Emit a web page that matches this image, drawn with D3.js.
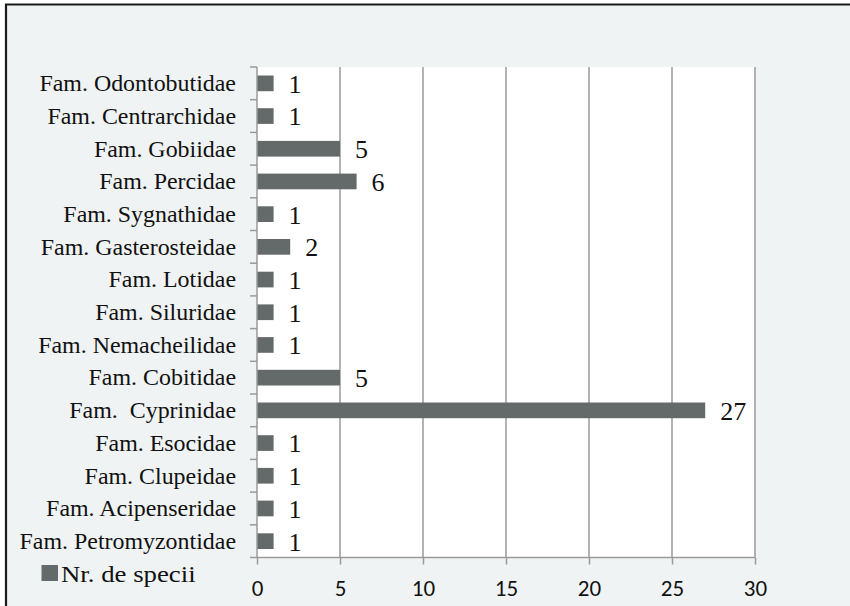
<!DOCTYPE html>
<html>
<head>
<meta charset="utf-8">
<script src="https://cdn.jsdelivr.net/npm/d3@7"></script>
<style>
  html, body { margin: 0; padding: 0; background: #ffffff; }
  svg { display: block; }
</style>
</head>
<body>
<svg id="chart" width="850" height="606"></svg>
<script>
// Families, listed top to bottom
const families = [
  "Fam. Odontobutidae",
  "Fam. Centrarchidae",
  "Fam. Gobiidae",
  "Fam. Percidae",
  "Fam. Sygnathidae",
  "Fam. Gasterosteidae",
  "Fam. Lotidae",
  "Fam. Siluridae",
  "Fam. Nemacheilidae",
  "Fam. Cobitidae",
  "Fam.  Cyprinidae",
  "Fam. Esocidae",
  "Fam. Clupeidae",
  "Fam. Acipenseridae",
  "Fam. Petromyzontidae"
];
// Number of species per family
const speciesCount = [1, 1, 5, 6, 1, 2, 1, 1, 1, 5, 27, 1, 1, 1, 1];
const xTicks = [0, 5, 10, 15, 20, 25, 30];
const seriesName = "Nr. de specii";

const SERIF = "'Liberation Serif', 'Times New Roman', serif";
const SANS = "Carlito, Calibri, Lato, sans-serif";

const svg = d3.select("#chart");
const W = 850, H = 606;
const plot = { left: 257, right: 755, top: 67, bottom: 557.5 };
const gridColor = "#9a9a9a";
const barColor = "#646a69";

// frame background and top/left border
svg.append("rect").attr("x", 6).attr("y", 4).attr("width", W - 6).attr("height", H - 4)
  .attr("fill", "#f0f3f4");
svg.append("path").attr("d", `M6,${H} V4.5 H${W}`)
  .attr("fill", "none").attr("stroke", "#1a1a1a").attr("stroke-width", 2.2);

const x = d3.scaleLinear().domain([0, 30]).range([plot.left, plot.right]);
const yEdges = d3.scaleBand().domain(families).range([plot.top, plot.bottom]);
const y = d3.scaleBand().domain(families).range([plot.top, plot.bottom])
  .paddingInner(0.52).paddingOuter(0.26);

// plot area
svg.append("rect").attr("x", plot.left).attr("y", plot.top)
  .attr("width", plot.right - plot.left).attr("height", plot.bottom - plot.top)
  .attr("fill", "#ffffff");

// vertical gridlines
svg.append("g").selectAll("line").data(xTicks.slice(1)).join("line")
  .attr("x1", d => x(d)).attr("x2", d => x(d))
  .attr("y1", plot.top).attr("y2", plot.bottom)
  .attr("stroke", gridColor).attr("stroke-width", 1.5);

// bars
const data = families.map((f, i) => ({ f, v: speciesCount[i] }));
svg.append("g").selectAll("rect").data(data).join("rect")
  .attr("x", x(0))
  .attr("y", d => y(d.f))
  .attr("width", d => x(d.v) - x(0))
  .attr("height", y.bandwidth())
  .attr("fill", barColor);

// value labels
svg.append("g").selectAll("text").data(data).join("text")
  .attr("x", d => x(d.v) + 15)
  .attr("y", d => y(d.f) + y.bandwidth() / 2)
  .attr("dy", "0.36em")
  .attr("font-family", SERIF)
  .attr("font-size", 26)
  .attr("fill", "#111")
  .text(d => d.v);

// x axis
const xAxis = d3.axisBottom(x).tickValues(xTicks).tickSize(7).tickPadding(15.5)
  .tickFormat(d3.format("d"));
const gx = svg.append("g").attr("transform", `translate(0,${plot.bottom})`).call(xAxis);
gx.select(".domain").attr("stroke", gridColor).attr("stroke-width", 1.5)
  .attr("d", `M${plot.left},0H${plot.right}`);
gx.selectAll(".tick line").attr("stroke", gridColor).attr("stroke-width", 1.5);
gx.selectAll(".tick text").attr("font-family", SANS)
  .attr("font-size", 23).attr("fill", "#111");

// y axis with ticks at category boundaries
const gy = svg.append("g");
gy.append("line").attr("x1", plot.left).attr("x2", plot.left)
  .attr("y1", plot.top).attr("y2", plot.bottom)
  .attr("stroke", gridColor).attr("stroke-width", 1.5);
const edges = families.map(f => yEdges(f)).concat([plot.bottom]);
gy.selectAll("line.edge").data(edges).join("line").attr("class", "edge")
  .attr("x1", plot.left - 7).attr("x2", plot.left)
  .attr("y1", d => d).attr("y2", d => d)
  .attr("stroke", gridColor).attr("stroke-width", 1.5);

// category labels (slightly widened serif)
svg.append("g").selectAll("text").data(families).join("text")
  .attr("transform", d => `translate(236,${yEdges(d) + yEdges.bandwidth() / 2}) scale(1.04,1)`)
  .attr("dy", "0.34em")
  .attr("text-anchor", "end")
  .attr("font-family", SERIF)
  .attr("font-size", 23)
  .attr("fill", "#111")
  .style("white-space", "pre")
  .text(d => d);

// legend
const lg = svg.append("g").attr("transform", "translate(41.5,565)");
lg.append("rect").attr("width", 16.5).attr("height", 16).attr("fill", barColor);
lg.append("text")
  .attr("transform", "translate(19.5,16.5) scale(1.14,1)")
  .attr("font-family", SERIF)
  .attr("font-size", 23.5).attr("fill", "#111")
  .text(seriesName);
</script>
</body>
</html>
